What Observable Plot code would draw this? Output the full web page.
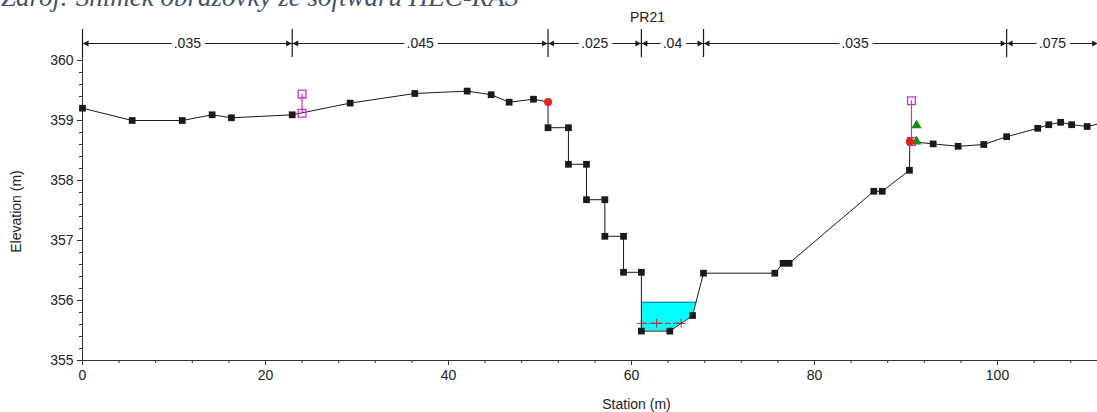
<!DOCTYPE html>
<html>
<head>
<meta charset="utf-8">
<script src="https://cdn.jsdelivr.net/npm/d3@7"></script>
<script src="https://cdn.jsdelivr.net/npm/@observablehq/plot@0.6"></script>
<style>
  body { margin: 0; background: #fff; }
  #wrap { position: relative; width: 1097px; height: 412px; overflow: hidden; background: #fff; }
  #caption {
    position: absolute; left: 1px; top: -16px;
    font: italic 27px/27px "Liberation Serif", "Times New Roman", serif;
    color: #44546A; white-space: nowrap;
  }
</style>
</head>
<body>
<div id="wrap">
  <div id="chart"></div>
  <div id="caption">Zdroj: Snímek obrazovky ze softwaru HEC-RAS</div>
</div>
<script>
// Cross section PR21 — ground profile (station m, elevation m)
const stations = [0, 5.43, 10.9, 14.17, 16.28, 22.92, 29.25, 36.32, 42.04, 44.66, 46.63, 49.29,
  50.88, 50.88, 53.11, 53.11, 55.08, 55.08, 57.09, 57.09, 59.13, 59.13, 61.08, 61.08,
  64.19, 66.67, 67.87, 75.66, 76.57, 77.23, 86.48, 87.4, 90.38, 90.42, 92.97, 95.7,
  98.5, 101.0, 104.4, 105.6, 106.9, 108.1, 109.8, 111.5];
const elevations = [359.205, 359.0, 359.0, 359.095, 359.045, 359.095, 359.29, 359.45, 359.49, 359.43, 359.305, 359.355,
  359.31, 358.88, 358.88, 358.27, 358.27, 357.68, 357.68, 357.07, 357.07, 356.47, 356.47, 355.49,
  355.49, 355.75, 356.455, 356.455, 356.62, 356.62, 357.82, 357.82, 358.17, 358.65, 358.61, 358.57,
  358.6, 358.73, 358.87, 358.93, 358.97, 358.93, 358.9, 358.96];

// Bank stations (red)
const bankStations = [50.88, 90.42];

// Ineffective flow areas (magenta)
const ineffStations = [24.0, 90.6];
const ineffTop = [359.44, 359.33];
const ineffBottom = [359.12, 358.65];

// Levee (green)
const leveeStation = [91.15, 91.15];
const leveeElev = [358.92, 358.65];

// Water surface and critical depth
const wsElev = 355.97;
const critElev = 355.62;
const critMarks = [61.08, 62.75];

// Manning's n regions
const manningBreaks = [0, 22.92, 50.88, 61.08, 67.87, 101.0, 111.0];
const manningN = [0.035, 0.045, 0.025, 0.04, 0.035, 0.075];

// Axis ticks
const xMajor = [0, 20, 40, 60, 80, 100];
const yMajor = [355, 356, 357, 358, 359, 360];

// ---------- derived tables ----------
const ground = stations.map((s, i) => ({x: s, y: elevations[i]}));
const bank = bankStations.map(s => ground.find(g => g.x === s));
const groundPts = ground.filter(g => !bank.includes(g));

function crossing(level, from) {
  for (let i = from; i < ground.length - 1; i++) {
    const a = ground[i], b = ground[i + 1];
    if (a.y <= level && b.y > level) return a.x + (level - a.y) / (b.y - a.y) * (b.x - a.x);
  }
}
const iBed = ground.findIndex(g => g.y < wsElev);
const water = [];
for (let i = iBed; ground[i].y <= wsElev; i++) water.push({x: ground[i].x, y1: ground[i].y, y2: wsElev});
const wsRight = crossing(wsElev, iBed);
water.push({x: wsRight, y1: wsElev, y2: wsElev});
const wsLine = [{x: ground[iBed].x, y: wsElev}, {x: wsRight, y: wsElev}];
const critRight = crossing(critElev, iBed);
const critLine = [{x: ground[iBed].x, y: critElev}, {x: critRight, y: critElev}];
const critPlus = [...critMarks, critRight].map(x => ({x, y: critElev}));

const ineff = ineffStations.map((s, i) => ({x: s, top: ineffTop[i], bottom: ineffBottom[i]}));
const ineffPts = ineff.flatMap(d => [{x: d.x, y: d.top}, {x: d.x, y: d.bottom}]);
const levee = leveeStation.map((s, i) => ({x: s, y: leveeElev[i]}));

// Manning's n bar sits above the plotting area
const nBarY = 360.283, nTickTop = 360.517, nTickBottom = 360.05;
const nSegs = manningN.map((n, i) => ({
  a: manningBreaks[i], b: manningBreaks[i + 1], y: nBarY,
  label: String(n).replace(/^0/, "")
}));
const nTicks = manningBreaks.map(x => ({x, y1: nTickBottom, y2: nTickTop}));
const headLeft = {draw(ctx) { ctx.moveTo(0.5, 0); ctx.lineTo(6, -3); ctx.lineTo(6, 3); ctx.closePath(); }};
const headRight = {draw(ctx) { ctx.moveTo(-0.5, 0); ctx.lineTo(-6, -3); ctx.lineTo(-6, 3); ctx.closePath(); }};

const xMinor = d3.range(0, 111, 4).filter(v => !xMajor.includes(v));
const yMinor = d3.range(0, 25).map(i => +(355 + i * 0.2).toFixed(1)).filter(v => !yMajor.includes(v));

const ink = "#1a1a1a";
const magenta = "#cc33cc";

const chart = Plot.plot({
  width: 1097,
  height: 412,
  marginLeft: 82,
  marginRight: 0,
  marginTop: 30,
  marginBottom: 52,
  x: {domain: [0, 110.93], label: null},
  y: {domain: [355, 360.5], label: null},
  style: {fontFamily: "'Liberation Sans', Arial, sans-serif", fontSize: "14px", color: "#222", background: "white"},
  marks: [
    // water in the channel
    Plot.areaY(water, {x: "x", y1: "y1", y2: "y2", fill: "#00ffff"}),
    Plot.line(wsLine, {x: "x", y: "y", stroke: "#1f86a8", strokeWidth: 1.2}),
    Plot.line(critLine, {x: "x", y: "y", stroke: "#d42020", strokeWidth: 1, strokeDasharray: "5,3"}),
    Plot.dot(critPlus, {x: "x", y: "y", symbol: "plus", r: 3, stroke: "#d42020", strokeWidth: 1}),

    // axes
    Plot.ruleX([0], {y1: 355, y2: 360.5, stroke: "#333"}),
    Plot.ruleY([355], {stroke: "#333"}),
    Plot.axisY(yMajor, {tickSize: 5, tickPadding: 4, fontSize: 14, stroke: "#333", label: null, tickFormat: d3.format("d")}),
    Plot.axisY(yMinor, {tickSize: 3, tickFormat: () => "", stroke: "#333", label: null}),
    Plot.axisX(xMajor, {tickSize: 5, tickPadding: 5, fontSize: 14, stroke: "#333", label: null, tickFormat: d3.format("d")}),
    Plot.axisX(xMinor, {tickSize: 3, tickFormat: () => "", stroke: "#333", label: null}),

    // ground profile
    Plot.line(ground, {x: "x", y: "y", stroke: ink, strokeWidth: 1}),
    Plot.dot(groundPts, {x: "x", y: "y", symbol: "square", r: 3.8, fill: ink, stroke: "none"}),

    // ineffective flow areas
    Plot.ruleX(ineff, {x: "x", y1: "bottom", y2: "top", stroke: magenta, strokeWidth: 1.2}),
    Plot.dot(ineffPts, {x: "x", y: "y", symbol: "square", r: 4.4, fill: "none", stroke: magenta, strokeWidth: 1.3}),

    // levee
    Plot.dot(levee, {x: "x", y: "y", symbol: "triangle", r: 3.8, fill: "#1a8c1a", stroke: "none"}),

    // bank stations
    Plot.dot(bank, {x: "x", y: "y", r: 4, fill: "#e8201a", stroke: "none"}),

    // Manning's n regions
    Plot.ruleX(nTicks, {x: "x", y1: "y1", y2: "y2", stroke: ink, strokeWidth: 1.2}),
    Plot.ruleY(nSegs, {x1: "a", x2: "b", y: "y", stroke: ink, strokeWidth: 1}),
    Plot.dot(nSegs, {x: "a", y: "y", symbol: headLeft, fill: ink, stroke: "none"}),
    Plot.dot(nSegs, {x: "b", y: "y", symbol: headRight, fill: ink, stroke: "none"}),
    Plot.text(nSegs, {x: d => (d.a + d.b) / 2, y: "y", text: "label", fontSize: 14, fill: "white", stroke: "white", strokeWidth: 9}),
    Plot.text(nSegs, {x: d => (d.a + d.b) / 2, y: "y", text: "label", fontSize: 14, fill: "#222"}),

    // titles
    Plot.text(["PR21"], {frameAnchor: "top-left", dx: 565, dy: -13, textAnchor: "middle", lineAnchor: "middle", fontSize: 14, fill: "#222"}),
    Plot.text(["Station (m)"], {frameAnchor: "bottom-left", dx: 554, dy: 44, textAnchor: "middle", lineAnchor: "middle", fontSize: 14, fill: "#222"}),
    Plot.text(["Elevation (m)"], {frameAnchor: "left", dx: -66, dy: 16, rotate: -90, textAnchor: "middle", lineAnchor: "middle", fontSize: 14, fill: "#222"})
  ]
});
document.getElementById("chart").append(chart);
</script>
</body>
</html>
